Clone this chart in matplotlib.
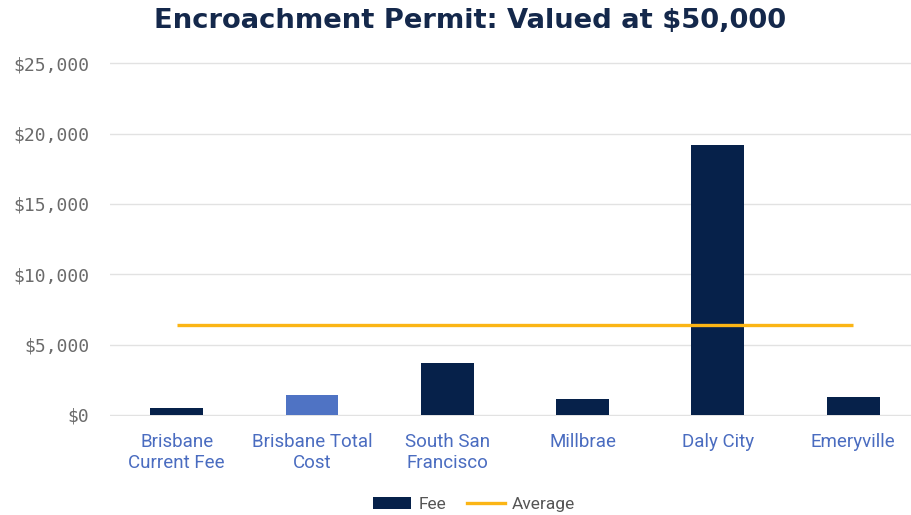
import matplotlib
matplotlib.use("Agg")
import matplotlib.pyplot as plt
from matplotlib.ticker import FuncFormatter
from matplotlib.patches import Patch
from matplotlib.lines import Line2D

categories = ["Brisbane\nCurrent Fee", "Brisbane Total\nCost", "South San\nFrancisco",
              "Millbrae", "Daly City", "Emeryville"]
fees = [520, 1400, 3670, 1120, 19190, 1260]
average = [6380, 6380, 6380, 6380, 6380, 6380]
y_ticks = [0, 5000, 10000, 15000, 20000, 25000]

navy = "#06214a"
light_blue = "#4f73c4"
orange = "#fbb515"
bar_colors = [navy, light_blue, navy, navy, navy, navy]

# pixel layout: $0 at y=415, $25,000 at y=63.3
px_per_unit = (415 - 63.3) / 25000
y_lo, y_hi = -100, 25100
top_px = 63.3 - (y_hi - 25000) * px_per_unit
bot_px = 415 + (0 - y_lo) * px_per_unit

fig = plt.figure(figsize=(9.12, 5.15), dpi=100)
ax = fig.add_axes([110 / 912, 1 - bot_px / 515, 1 - 110 / 912, (bot_px - top_px) / 515])

x = list(range(len(categories)))
ax.bar(x, fees, width=0.39, color=bar_colors, zorder=3)
ax.plot(x, average, color=orange, linewidth=2.4, zorder=4, solid_capstyle="butt")

ax.set_ylim(y_lo, y_hi)
ax.set_xlim(-0.493, 5.435)
ax.set_yticks(y_ticks)
ax.yaxis.set_major_formatter(FuncFormatter(lambda v, pos: f"${int(v):,}"))
ax.grid(axis="y", color="#e2e2e2", linewidth=1.0, zorder=0)
for side in ["top", "right", "left", "bottom"]:
    ax.spines[side].set_visible(False)
ax.tick_params(axis="both", length=0)
ax.tick_params(axis="y", pad=15, labelsize=13, labelcolor="#6b6b6b")
for lbl in ax.get_yticklabels():
    lbl.set_family("DejaVu Sans Mono")

ax.set_xticks(x)
ax.set_xticklabels(categories, color="#4a6cc0", fontsize=13.5,
                   family=["Roboto", "DejaVu Sans"], linespacing=1.2)
ax.tick_params(axis="x", pad=12)

fig.text(0.515, 0.96, "Encroachment Permit: Valued at $50,000", ha="center", va="center",
         fontsize=19.7, fontweight="bold", color="#14284b", family="DejaVu Sans")

handles = [Patch(facecolor=navy, edgecolor="none"),
           Line2D([0], [0], color=orange, linewidth=2.4)]
fig.legend(handles, ["Fee", "Average"], loc="center", bbox_to_anchor=(0.52, 0.021),
           ncol=2, frameon=False, labelcolor="#555555",
           handlelength=2.2, handletextpad=0.4, columnspacing=1.2,
           prop={"family": ["Roboto", "DejaVu Sans"], "size": 12.5})

fig.savefig("out.png", dpi=100)
